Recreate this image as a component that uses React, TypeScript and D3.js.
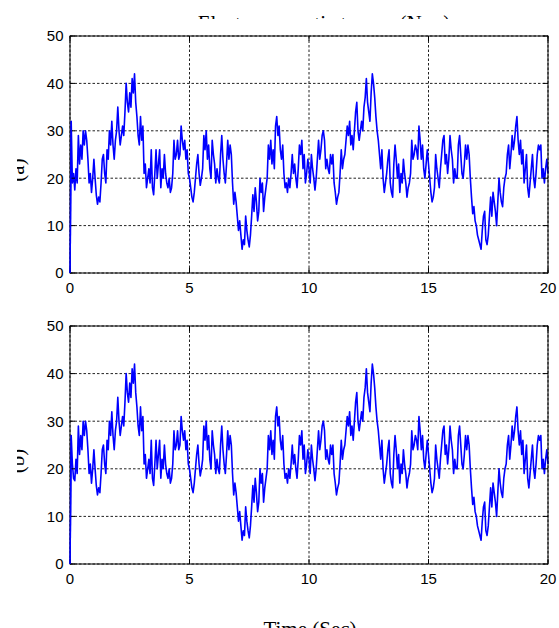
import React from "react";
import * as d3 from "d3";

// sample spacing of the torque traces (s)
const TIME_STEP = 0.05;

const xTicks = [0, 5, 10, 15, 20];
const yTicks = [0, 10, 20, 30, 40, 50];

// (a) torque, one row per second
const torqueA = [
  0, 32, 19, 21, 17.5, 22, 19, 29, 23, 27, 24, 30, 27, 30, 28, 24, 19, 21, 17, 20,
  24, 20, 16.5, 14.5, 16, 15, 19, 24, 25, 21, 19, 26, 24, 30, 27, 32, 27, 24, 28, 30,
  35, 30, 27, 29, 31, 29, 34, 40, 36, 34, 38, 35, 41, 38, 42, 36, 33, 29, 27, 33,
  28, 31, 21, 23, 18, 20, 22, 19, 26, 18, 16.5, 21, 26, 20, 23, 26, 18, 22, 20, 25,
  21, 19, 18, 20, 17, 18, 21, 28, 24, 25, 28, 24, 25, 31, 28, 26, 28, 24, 26, 21,
  20, 18, 16, 15, 17, 20, 23, 25, 21, 18.5, 20, 22, 29, 26, 30, 24, 27, 22, 20, 28,
  25, 23, 19, 22, 20, 19, 25, 29, 24, 21, 19, 23, 28, 24, 27, 25, 19, 14.5, 17, 15,
  12, 9, 11, 8, 5, 7, 6, 12, 9, 7, 5.5, 8, 12, 16.5, 13, 18, 15, 11, 13, 20,
  17, 19, 13, 16, 18, 20, 27, 24, 28, 23, 26, 22, 31, 33, 29, 31, 26, 24, 27, 21,
  18, 19, 17, 20, 18, 21, 25, 21, 23, 20, 18, 22, 27, 25, 28, 22, 25, 19, 21, 24,
  22, 19, 25, 22, 20, 17.5, 20, 24, 28, 24, 26, 29, 30, 28, 22, 24, 22, 21, 25, 23,
  25, 19, 17, 14.5, 16, 17, 21, 26, 22, 24, 25, 28, 31, 29, 32, 27, 29, 26, 30, 34,
  36, 30, 28, 30, 32, 30, 35, 37, 41, 36, 34, 32, 38, 42, 40, 37, 33, 30, 28, 25,
  22, 26, 20, 17, 19, 21, 24, 26, 19, 17, 16, 23, 27, 24, 20, 23, 17, 21, 19, 24,
  21, 19, 16, 18, 19, 21, 28, 24, 25, 27, 26, 24, 31, 28, 24, 27, 22, 20, 23, 26,
  23, 20, 17, 15, 16, 18, 25, 22, 20, 18, 22, 25, 28, 29, 23, 25, 21, 24, 29, 26,
  24, 19, 22, 20, 20, 27, 29, 25, 21, 20, 23, 27, 24, 27, 25, 20, 16, 12.5, 14, 11,
  10, 8, 7, 6, 5, 9, 12, 13, 7, 6, 8, 12, 16, 12, 17, 15, 13, 10, 15, 20,
  17, 15, 14, 18, 20, 21, 25, 27, 22, 25, 29, 26, 28, 31, 33, 28, 25, 28, 23, 26,
  19, 22, 25, 18, 16, 19, 22, 25, 20, 18, 21, 25, 27, 26, 27, 20, 22, 19, 22, 24,
  21,
];

// (b) differs from (a) only in the first instants
const torqueB = [0, 27, 21, 18, ...torqueA.slice(4)];

const panels = [
  { id: "a", label: "(a)", values: torqueA, top: 36, bottom: 273, labelY: 170 },
  { id: "b", label: "(b)", values: torqueB, top: 326, bottom: 564, labelY: 461 },
];

const W = 559;
const H = 628;
const LEFT = 70;
const RIGHT = 548;
const TICK = 5;
const sans = "'Liberation Sans', Arial, Helvetica, sans-serif";
const serif = "'Liberation Serif', 'Times New Roman', Times, serif";

const x = d3.scaleLinear().domain([0, 20]).range([LEFT, RIGHT]);

function Panel({ p }: { p: (typeof panels)[number] }) {
  const y = d3.scaleLinear().domain([0, 50]).range([p.bottom, p.top]);
  const line = d3
    .line<number>()
    .x((_, i) => x(i * TIME_STEP))
    .y((d) => y(d));

  return (
    <g>
      <defs>
        <clipPath id={`clip-${p.id}`}>
          <rect x={LEFT} y={p.top - 1} width={RIGHT - LEFT + 1} height={p.bottom - p.top + 2} />
        </clipPath>
        <clipPath id={`lab-${p.id}`}>
          <rect x={17} y={0} width={60} height={H} />
        </clipPath>
      </defs>
      <rect x={LEFT} y={p.top} width={RIGHT - LEFT} height={p.bottom - p.top} fill="#fff" />
      {/* dotted grid */}
      {xTicks.map((t) => (
        <line key={`gx${t}`} x1={x(t)} x2={x(t)} y1={p.top} y2={p.bottom}
          stroke="#222" strokeWidth={1} strokeDasharray="2.5,2" />
      ))}
      {yTicks.map((t) => (
        <line key={`gy${t}`} x1={LEFT} x2={RIGHT} y1={y(t)} y2={y(t)}
          stroke="#222" strokeWidth={1} strokeDasharray="2.5,2" />
      ))}
      <path d={line(p.values) ?? ""} fill="none" stroke="#0000ff" strokeWidth={1.6}
        strokeLinejoin="round" clipPath={`url(#clip-${p.id})`} />
      <rect x={LEFT} y={p.top} width={RIGHT - LEFT} height={p.bottom - p.top}
        fill="none" stroke="#000" strokeWidth={1} />
      {xTicks.map((t) => (
        <g key={`tx${t}`}>
          <line x1={x(t)} x2={x(t)} y1={p.bottom} y2={p.bottom - TICK} stroke="#000" />
          <line x1={x(t)} x2={x(t)} y1={p.top} y2={p.top + TICK} stroke="#000" />
          <text x={x(t)} y={p.bottom + 20} textAnchor="middle" fontFamily={sans} fontSize={15}>
            {t}
          </text>
        </g>
      ))}
      {yTicks.map((t) => (
        <g key={`ty${t}`}>
          <line x1={LEFT} x2={LEFT + TICK} y1={y(t)} y2={y(t)} stroke="#000" />
          <line x1={RIGHT} x2={RIGHT - TICK} y1={y(t)} y2={y(t)} stroke="#000" />
          <text x={63.5} y={y(t)} dy="0.36em" textAnchor="end" fontFamily={sans} fontSize={15}>
            {t}
          </text>
        </g>
      ))}
      <g clipPath={`url(#lab-${p.id})`}>
        <text transform={`translate(24,${p.labelY}) rotate(-90)`} textAnchor="middle"
          fontFamily={serif} fontSize={21}>
          {p.label}
        </text>
      </g>
      {/* keep the line above the left axis like the original */}
      <path d={line(p.values.slice(0, 2)) ?? ""} fill="none" stroke="#0000ff" strokeWidth={1.6} />
    </g>
  );
}

export default function App() {
  return (
    <svg width={W} height={H} viewBox={`0 0 ${W} ${H}`}
      style={{ position: "absolute", left: 0, top: 0, background: "#fff" }}>
      <rect width={W} height={H} fill="#fff" />
      <defs>
        <clipPath id="title-clip">
          <rect x={0} y={0} width={W} height={19} />
        </clipPath>
      </defs>
      <text x={324} y={29.5} textAnchor="middle" fontFamily={serif} fontSize={21}
        clipPath="url(#title-clip)">
        Electromagnetic torque (N.m)
      </text>
      {panels.map((p) => (
        <Panel key={p.id} p={p} />
      ))}
      <text x={310} y={636} textAnchor="middle" fontFamily={serif} fontSize={21}>
        Time (Sec)
      </text>
    </svg>
  );
}
